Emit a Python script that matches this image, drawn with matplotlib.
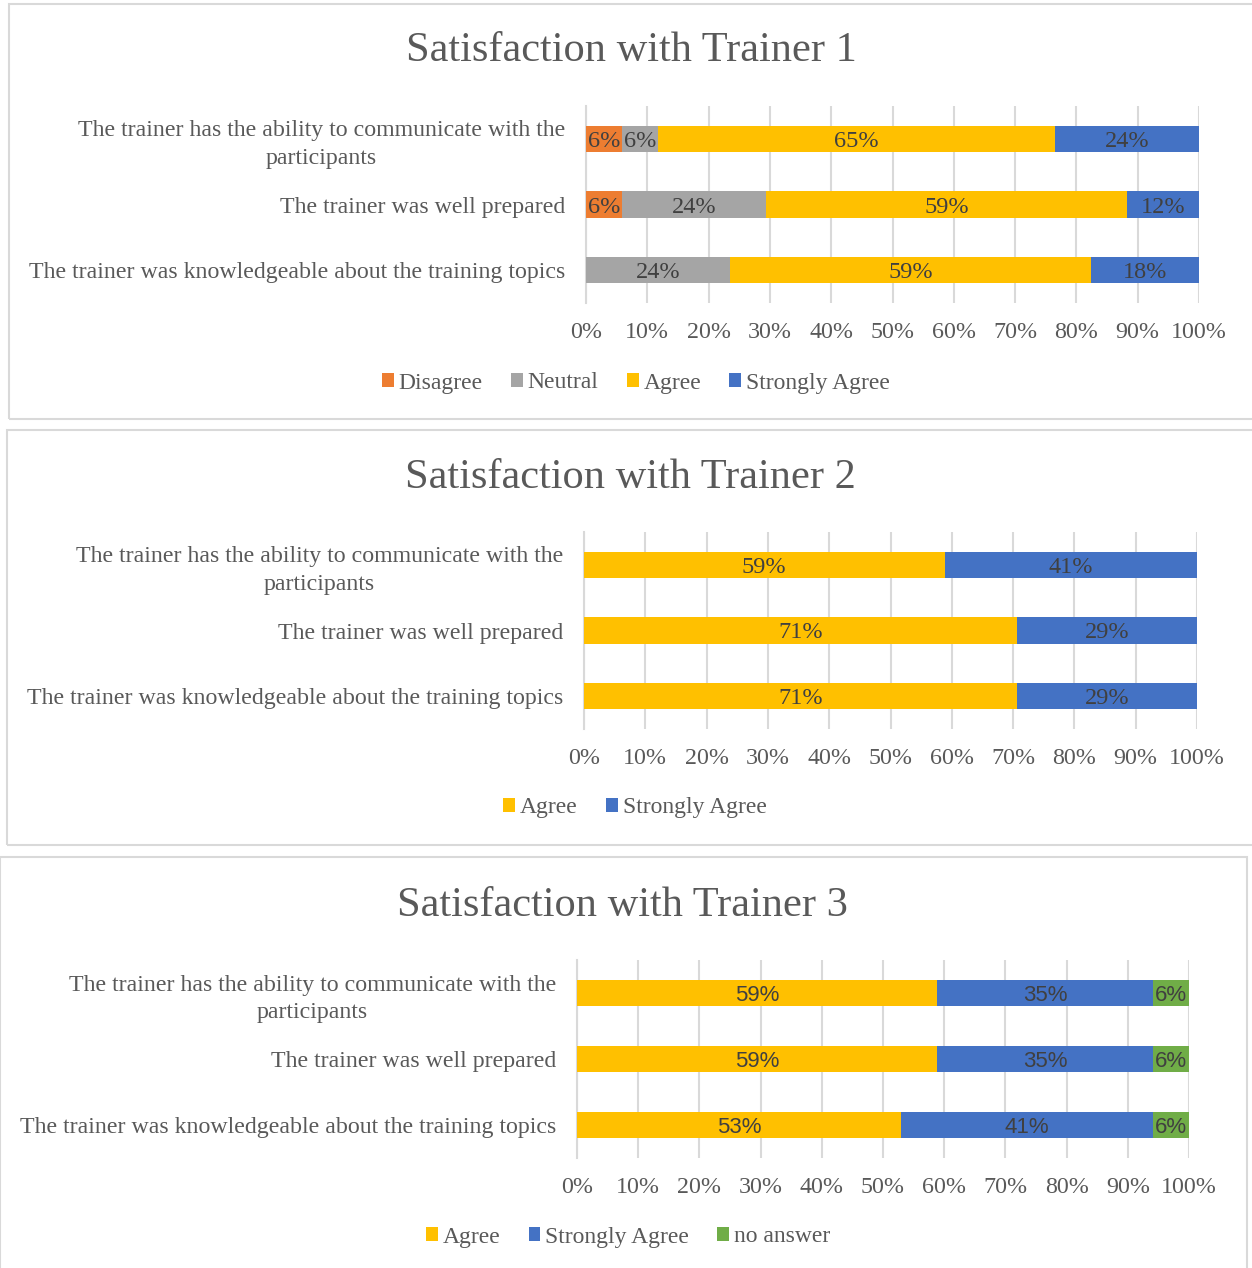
# Satisfaction with trainers: three stacked 100% bar charts, one per trainer
import matplotlib.pyplot as plt
from matplotlib.patches import Patch, Rectangle

W, H = 1252, 1268

questions = [
    "The trainer has the ability to communicate with the\nparticipants",
    "The trainer was well prepared",
    "The trainer was knowledgeable about the training topics",
]

# share of answers (percent), one list per response category
t1_disagree = [5.88, 5.88, 0.0]
t1_neutral = [5.88, 23.53, 23.53]
t1_agree = [64.71, 58.82, 58.82]
t1_strongly = [23.53, 11.76, 17.65]

t2_agree = [58.82, 70.59, 70.59]
t2_strongly = [41.18, 29.41, 29.41]

t3_agree = [58.82, 58.82, 52.94]
t3_strongly = [35.29, 35.29, 41.18]
t3_noanswer = [5.88, 5.88, 5.88]

ticks = list(range(0, 101, 10))

COL = {"Disagree": "#ED7D31", "Neutral": "#A5A5A5", "Agree": "#FFC000",
       "Strongly Agree": "#4472C4", "no answer": "#70AD47"}
TXT = "#595959"
LBL = "#404040"
GRID = "#D9D9D9"
SERIF = "Liberation Serif"
SANS = "Liberation Sans"

panels = [
    dict(title="Satisfaction with Trainer 1",
         series=[("Disagree", t1_disagree), ("Neutral", t1_neutral),
                 ("Agree", t1_agree), ("Strongly Agree", t1_strongly)],
         box=(9, 4, 1300, 419), plot=(586, 106, 1199, 303),
         title_x=631, title_y=51, legend_y=383, legend_x=636,
         label_font=SERIF, label_size=17.5),
    dict(title="Satisfaction with Trainer 2",
         series=[("Agree", t2_agree), ("Strongly Agree", t2_strongly)],
         box=(7, 430, 1300, 845), plot=(584, 532, 1197, 729),
         title_x=630, title_y=478, legend_y=808, legend_x=635,
         label_font=SERIF, label_size=17.5),
    dict(title="Satisfaction with Trainer 3",
         series=[("Agree", t3_agree), ("Strongly Agree", t3_strongly),
                 ("no answer", t3_noanswer)],
         box=(0, 857, 1247, 1300), plot=(577, 960, 1189, 1158),
         title_x=622, title_y=906, legend_y=1237, legend_x=628,
         label_font=SANS, label_size=16),
]

fig = plt.figure(figsize=(W / 100, H / 100), dpi=100)

for p in panels:
    bx0, by0, bx1, by1 = p["box"]
    fig.patches.append(Rectangle((bx0 / W, 1 - by1 / H), (bx1 - bx0) / W, (by1 - by0) / H,
                                 transform=fig.transFigure, fill=False,
                                 edgecolor=GRID, linewidth=1.5))

    x0, y0, x1, y1 = p["plot"]
    ax = fig.add_axes([x0 / W, 1 - y1 / H, (x1 - x0) / W, (y1 - y0) / H])
    ypos = list(range(len(questions)))
    left = [0.0] * len(questions)
    for name, vals in p["series"]:
        ax.barh(ypos, vals, left=left, height=0.4, color=COL[name], label=name, zorder=3)
        for i, v in enumerate(vals):
            if v > 0:
                ax.text(left[i] + v / 2, i, f"{round(v)}%", ha="center", va="center_baseline",
                        fontsize=p["label_size"], color=LBL, family=p["label_font"], zorder=4)
        left = [l + v for l, v in zip(left, vals)]

    ax.set_xlim(0, 100)
    ax.set_ylim(len(questions) - 0.5, -0.5)
    ax.set_xticks(ticks)
    ax.set_xticklabels([f"{t}%" for t in ticks], fontsize=17.3, color=TXT, family=SERIF)
    ax.set_yticks(ypos)
    ax.set_yticklabels(questions, fontsize=17.2, color=TXT, family=SERIF)
    for lbl in ax.get_yticklabels():
        lbl.set_multialignment("center")
        lbl.set_linespacing(1.4)
    ax.tick_params(axis="both", length=0)
    ax.tick_params(axis="x", pad=14)
    ax.tick_params(axis="y", pad=15)
    ax.grid(axis="x", color=GRID, linewidth=1.5, zorder=0)
    for s in ["top", "right", "bottom"]:
        ax.spines[s].set_visible(False)
    ax.spines["left"].set_color(GRID)
    ax.spines["left"].set_linewidth(1.5)

    fig.text(p["title_x"] / W, 1 - p["title_y"] / H, p["title"], ha="center", va="center",
             fontsize=30.5, color=TXT, family=SERIF)

    handles = [Patch(facecolor=COL[n], label=n) for n, _ in p["series"]]
    fig.legend(handles=handles, loc="center", ncol=len(handles),
               bbox_to_anchor=(p["legend_x"] / W, 1 - p["legend_y"] / H),
               frameon=False, handlelength=0.5, handleheight=0.5, handletextpad=0.2,
               columnspacing=1.2, prop={"family": SERIF, "size": 17}, labelcolor=TXT)

fig.savefig("out.png", dpi=100, facecolor="white")
